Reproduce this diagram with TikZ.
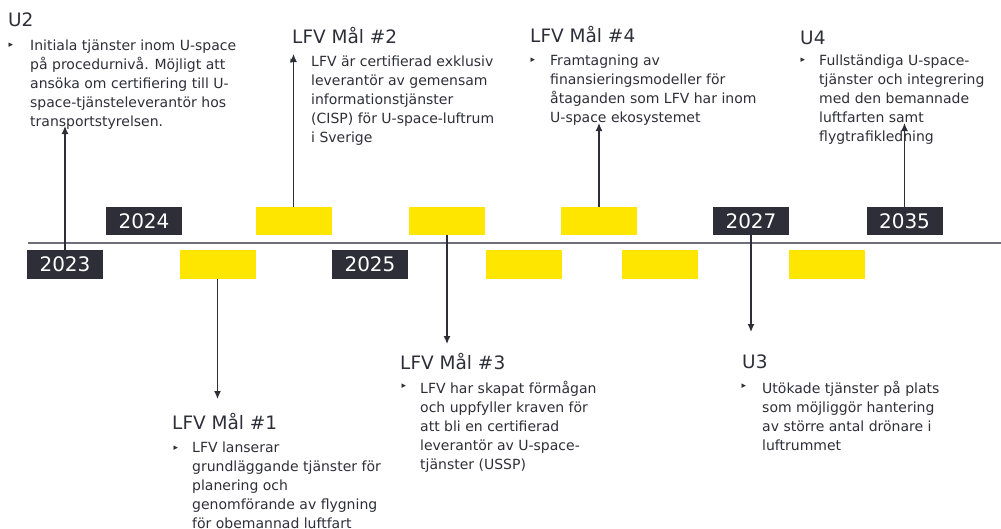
\documentclass[tikz,border=0pt]{standalone}
\usepackage{fontspec}
\setmainfont{DejaVu Sans}
\usetikzlibrary{arrows.meta,positioning}
\definecolor{eydark}{HTML}{2E2E38}
\definecolor{eygul}{HTML}{FFE600}
\definecolor{eylinje}{HTML}{6E6E78}
\begin{document}
\begin{tikzpicture}[x=1pt,y=-1pt,
	arbox/.style={fill=eydark,text=white,minimum width=76pt,minimum height=28.5pt,inner sep=0pt,font=\fontsize{20}{24}\selectfont},
	gulbox/.style={fill=eygul,minimum width=76pt,minimum height=28.5pt,inner sep=0pt},
	rubrik/.style={anchor=base west,inner sep=0pt,text=eydark,font=\fontsize{18.5}{22}\selectfont},
	punkt/.style={anchor=base west,inner sep=0pt,text=eydark,font=\fontsize{9}{10}\selectfont},
	brodtext/.style={anchor=north west,inner sep=0pt,align=left,text=eydark,font=\fontsize{14}{19}\selectfont},
	pil/.style={draw=eydark,line width=1.25pt,-{Latex[length=8pt,width=7pt]}}]
			\useasboundingbox (0,0) rectangle (1001,528);

			% Tidslinje
			\draw[eylinje,line width=1.3pt] (28,243) -- (1001,243);

			% Årtal
			\node[arbox] (a2023) at (65,264.5) {2023};
			\node[arbox] (a2024) at (144,221) {2024};
			\node[arbox] (a2025) at (370,264.5) {2025};
			\node[arbox] (a2027) at (751,221) {2027};
			\node[arbox] (a2035) at (904.5,221) {2035};

			% Gula rutor
			\node[gulbox] (g1) at (217.5,264.5) {};
			\node[gulbox] (g2) at (293.5,221) {};
			\node[gulbox] (g3) at (447,221) {};
			\node[gulbox] (g4) at (524,264.5) {};
			\node[gulbox] (g5) at (599,221) {};
			\node[gulbox] (g6) at (660,264.5) {};
			\node[gulbox] (g7) at (827,264.5) {};

			% Texter
			\node[rubrik] (hU2) at (8,26) {U2};
			\node[punkt] (pU2) at (8.5,47.5) {▸};
			\node[brodtext] (tU2) at (30,39.5) {Initiala tjänster inom U-space\\på procedurnivå. Möjligt att\\ansöka om certifiering till U-\\space-tjänsteleverantör hos\\transportstyrelsen.};

			\node[rubrik] (hM2) at (292,43) {LFV Mål \#2};
			\node[punkt] (pM2) at (290.5,63.5) {▸};
			\node[brodtext] (tM2) at (311,55.5) {LFV är certifierad exklusiv\\leverantör av gemensam\\informationstjänster\\(CISP) för U-space-luftrum\\i Sverige};

			\node[rubrik] (hM4) at (530,42) {LFV Mål \#4};
			\node[punkt] (pM4) at (530.5,62.5) {▸};
			\node[brodtext] (tM4) at (550,54.5) {Framtagning av\\finansieringsmodeller för\\åtaganden som LFV har inom\\U-space ekosystemet};

			\node[rubrik] (hU4) at (800,44) {U4};
			\node[punkt] (pU4) at (800.5,62.5) {▸};
			\node[brodtext] (tU4) at (819,54.5) {Fullständiga U-space-\\tjänster och integrering\\med den bemannade\\luftfarten samt\\flygtrafikledning};

			\node[rubrik] (hM1) at (172,429) {LFV Mål \#1};
			\node[punkt] (pM1) at (173.5,450) {▸};
			\node[brodtext] (tM1) at (192,442) {LFV lanserar\\grundläggande tjänster för\\planering och\\genomförande av flygning\\för obemannad luftfart};

			\node[rubrik] (hM3) at (400,369) {LFV Mål \#3};
			\node[punkt] (pM3) at (401.5,388.5) {▸};
			\node[brodtext] (tM3) at (420,380.5) {LFV har skapat förmågan\\och uppfyller kraven för\\att bli en certifierad\\leverantör av U-space-\\tjänster (USSP)};

			\node[rubrik] (hU3) at (742,368) {U3};
			\node[punkt] (pU3) at (741.5,388.5) {▸};
			\node[brodtext] (tU3) at (762,380.5) {Utökade tjänster på plats\\som möjliggör hantering\\av större antal drönare i\\luftrummet};

			% Pilar
			\coordinate (eU2) at (65,126);
			\coordinate (eM2) at (293.5,54);
			\coordinate (eM4) at (599,123);
			\coordinate (eU4) at (904.5,123);
			\coordinate (eM1) at (217.5,399);
			\coordinate (eM3) at (447,344);
			\coordinate (eU3) at (751,332);

			\draw[pil] (a2023) -- (eU2);
			\draw[pil] (g2) -- (eM2);
			\draw[pil] (g5) -- (eM4);
			\draw[pil] (a2035) -- (eU4);
			\draw[pil] (g1) -- (eM1);
			\draw[pil] (g3) -- (eM3);
			\draw[pil] (a2027) -- (eU3);

		    \end{tikzpicture}
\end{document}
